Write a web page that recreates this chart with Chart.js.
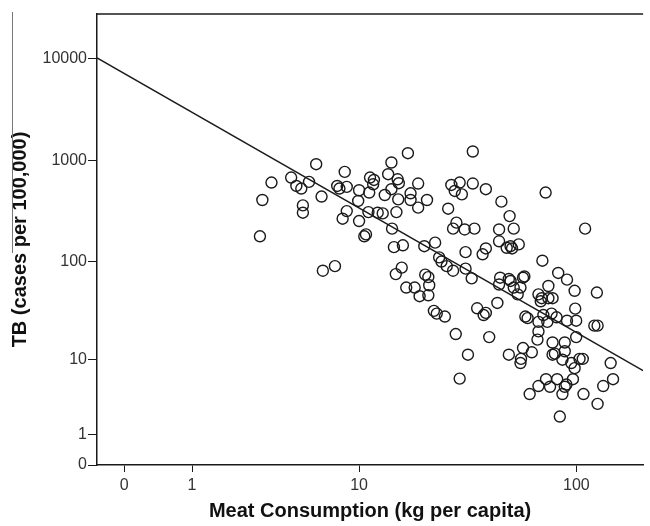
<!DOCTYPE html>
<html>
<head>
<meta charset="utf-8">
<script src="https://cdn.jsdelivr.net/npm/chart.js@4.4.1/dist/chart.umd.min.js"></script>
<style>
  html, body { margin: 0; padding: 0; background: #fff; }
  #wrap { position: relative; width: 650px; height: 526px; }
  #edge { position: absolute; left: 12px; top: 12px; width: 1px; height: 241px; background: #777; }
</style>
</head>
<body>
<div id="wrap">
  <canvas id="chart" width="650" height="526"></canvas>
  <div id="edge"></div>
</div>
<script>
// meat consumption (kg per capita) and TB (cases per 100,000), one entry per country
const meatKg = [
  3.0, 3.1, 3.5, 4.5, 4.8, 5.1, 5.6, 6.1, 5.2, 5.2, 6.5, 8.5, 7.8, 8.0, 8.7, 8.7, 8.3,
  10.0, 9.9, 10.0, 11.1, 11.3, 11.8, 11.7, 11.2, 10.6, 10.8, 12.3, 13.0, 13.3, 13.8,
  14.3, 14.3, 15.1, 15.4, 15.3, 15.5, 14.4, 17.1, 17.6, 17.6, 19.1, 19.1, 21.0, 26.3,
  27.2, 29.7, 28.2, 30.4, 28.7, 27.7, 31.3,
  34.1, 34.1, 39.1, 46.0, 50.1, 72.8, 34.7, 44.9, 52.3, 109.4,
  6.6, 7.6, 14.7, 16.2, 20.4, 22.9, 15.0, 16.0, 20.6, 21.3, 21.5, 16.8, 18.4, 19.4,
  21.3, 22.6, 23.3, 25.4, 23.9, 24.5, 25.9, 27.7, 31.6, 31.6, 28.5,
  33.7, 37.8, 39.1, 44.9, 48.6, 50.6, 51.4, 55.1, 70.4, 82.9, 90.8, 98.2, 123.5, 74.9,
  45.4, 49.7, 50.6, 57.6, 58.4, 52.3, 56.1, 44.9, 54.5, 67.6, 69.9, 74.9, 78.2, 69.2,
  44.1, 35.7, 39.1, 38.2, 59.0, 60.4, 71.1, 77.4, 81.5, 90.8, 99.8, 98.8, 67.6, 74.1,
  120.3, 124.4,
  40.5, 32.4, 29.7, 49.7, 57.6, 63.1, 66.9, 67.6, 56.4, 56.1, 78.2, 88.7, 99.8, 78.2,
  80.1, 88.7, 86.6, 94.9, 103.3, 106.8, 98.2, 142.3, 73.1, 82.0, 96.5, 90.2, 88.7,
  67.6, 76.2, 61.7, 86.6, 107.6, 131.8, 145.8, 124.4, 84.3
];
const tbRate = [
  178, 407, 605, 678, 560, 528, 614, 918, 360, 305, 440, 771, 560, 528, 548, 316, 266,
  508, 398, 252, 309, 678, 642, 582, 482, 178, 186, 305, 300, 456, 731,
  954, 520, 309, 413, 652, 596, 212, 1179, 474, 407, 592, 342, 407, 334,
  573, 605, 500, 463, 243, 212, 208,
  1225, 592, 520, 392, 282, 482, 212, 208, 212, 212,
  81, 90, 139, 145, 142, 154, 75, 87, 74, 70, 58, 55, 55, 45,
  46, 32, 30, 28, 110, 100, 90, 81, 124, 85, 18.5,
  68, 118, 135, 159, 137, 142, 135, 148, 102, 77, 66, 51, 49, 57,
  69, 67, 64, 69, 71, 55, 55, 59, 47, 47, 43, 43, 43, 40,
  38.5, 34, 30.5, 29, 28, 27, 29, 30, 27.5, 25.4, 25.4, 33.7, 24.7, 24.7,
  22.6, 22.6,
  17.2, 11.2, 6.1, 11.2, 13.2, 11.9, 16.2, 19.7, 10.1, 9.1, 15.1, 15.1, 17.2, 11.2,
  11.5, 12.2, 9.9, 9.1, 10.1, 10.1, 8.0, 9.1, 6.0, 6.0, 6.0, 5.2, 4.9,
  5.0, 4.9, 4.0, 4.0, 4.0, 5.0, 6.0, 3.0, 2.0
];

const xTickValues = [0, 1, 10, 100];
const yTickValues = [0, 1, 10, 100, 1000, 10000];

// fitted line in log10(value + 1) space
const fitIntercept = 3.857;
const fitSlope = -1.273;

const X_MIN = -0.12, X_MAX = 2.30;
const Y_MIN = 0, Y_MAX = 4.443;

const lg = v => Math.log10(v + 1);

const points = meatKg.map((m, i) => ({ x: lg(m), y: lg(tbRate[i]) }));
const fitLine = [X_MIN, X_MAX].map(x => ({ x, y: fitIntercept + fitSlope * x }));

const ink = "#1a1a1a";
const tickFont = { family: "Liberation Sans, Arial, sans-serif", size: 16 };
const titleFont = { family: "Liberation Sans, Arial, sans-serif", size: 20, weight: "bold" };

const topBorder = {
  id: "topBorder",
  afterDraw(chart) {
    const { ctx, chartArea } = chart;
    ctx.save();
    ctx.strokeStyle = ink;
    ctx.lineWidth = 1.5;
    ctx.beginPath();
    ctx.moveTo(chartArea.left, chartArea.top);
    ctx.lineTo(chartArea.right, chartArea.top);
    ctx.stroke();
    ctx.restore();
  }
};

new Chart(document.getElementById("chart"), {
  type: "scatter",
  data: {
    datasets: [
      {
        data: points,
        pointStyle: "circle",
        pointRadius: 5.5,
        pointBorderWidth: 1.4,
        pointBorderColor: ink,
        pointBackgroundColor: "rgba(0,0,0,0)"
      },
      {
        type: "line",
        data: fitLine,
        borderColor: ink,
        borderWidth: 1.5,
        pointRadius: 0,
        fill: false
      }
    ]
  },
  options: {
    responsive: false,
    animation: false,
    layout: { padding: { top: 14, right: 0, bottom: 0, left: 0 } },
    plugins: { legend: { display: false }, tooltip: { enabled: false } },
    scales: {
      x: {
        type: "linear",
        min: X_MIN,
        max: X_MAX,
        afterBuildTicks: s => { s.ticks = xTickValues.map(v => ({ value: lg(v) })); },
        afterFit: s => { s.height = 61; },
        ticks: {
          font: tickFont,
          color: "#333",
          padding: 4,
          maxRotation: 0,
          callback: (v, i) => String(xTickValues[i])
        },
        grid: { drawOnChartArea: false, tickLength: 7, color: ink, lineWidth: 1 },
        border: { display: true, color: ink, width: 1.5 },
        title: {
          display: true,
          text: "Meat Consumption (kg per capita)",
          font: titleFont,
          color: "#111",
          padding: { top: 0, bottom: 3 }
        }
      },
      y: {
        type: "linear",
        min: Y_MIN,
        max: Y_MAX,
        afterBuildTicks: s => { s.ticks = yTickValues.map(v => ({ value: lg(v) })); },
        afterFit: s => { s.width = 97; },
        ticks: {
          font: tickFont,
          color: "#333",
          padding: 1,
          callback: (v, i) => String(yTickValues[i])
        },
        grid: { drawOnChartArea: false, tickLength: 9, color: ink, lineWidth: 1 },
        border: { display: true, color: ink, width: 1.5 },
        title: {
          display: true,
          text: "TB (cases per 100,000)",
          font: titleFont,
          color: "#111",
          padding: { top: 8, bottom: 0 }
        }
      }
    }
  },
  plugins: [topBorder]
});
</script>
</body>
</html>
